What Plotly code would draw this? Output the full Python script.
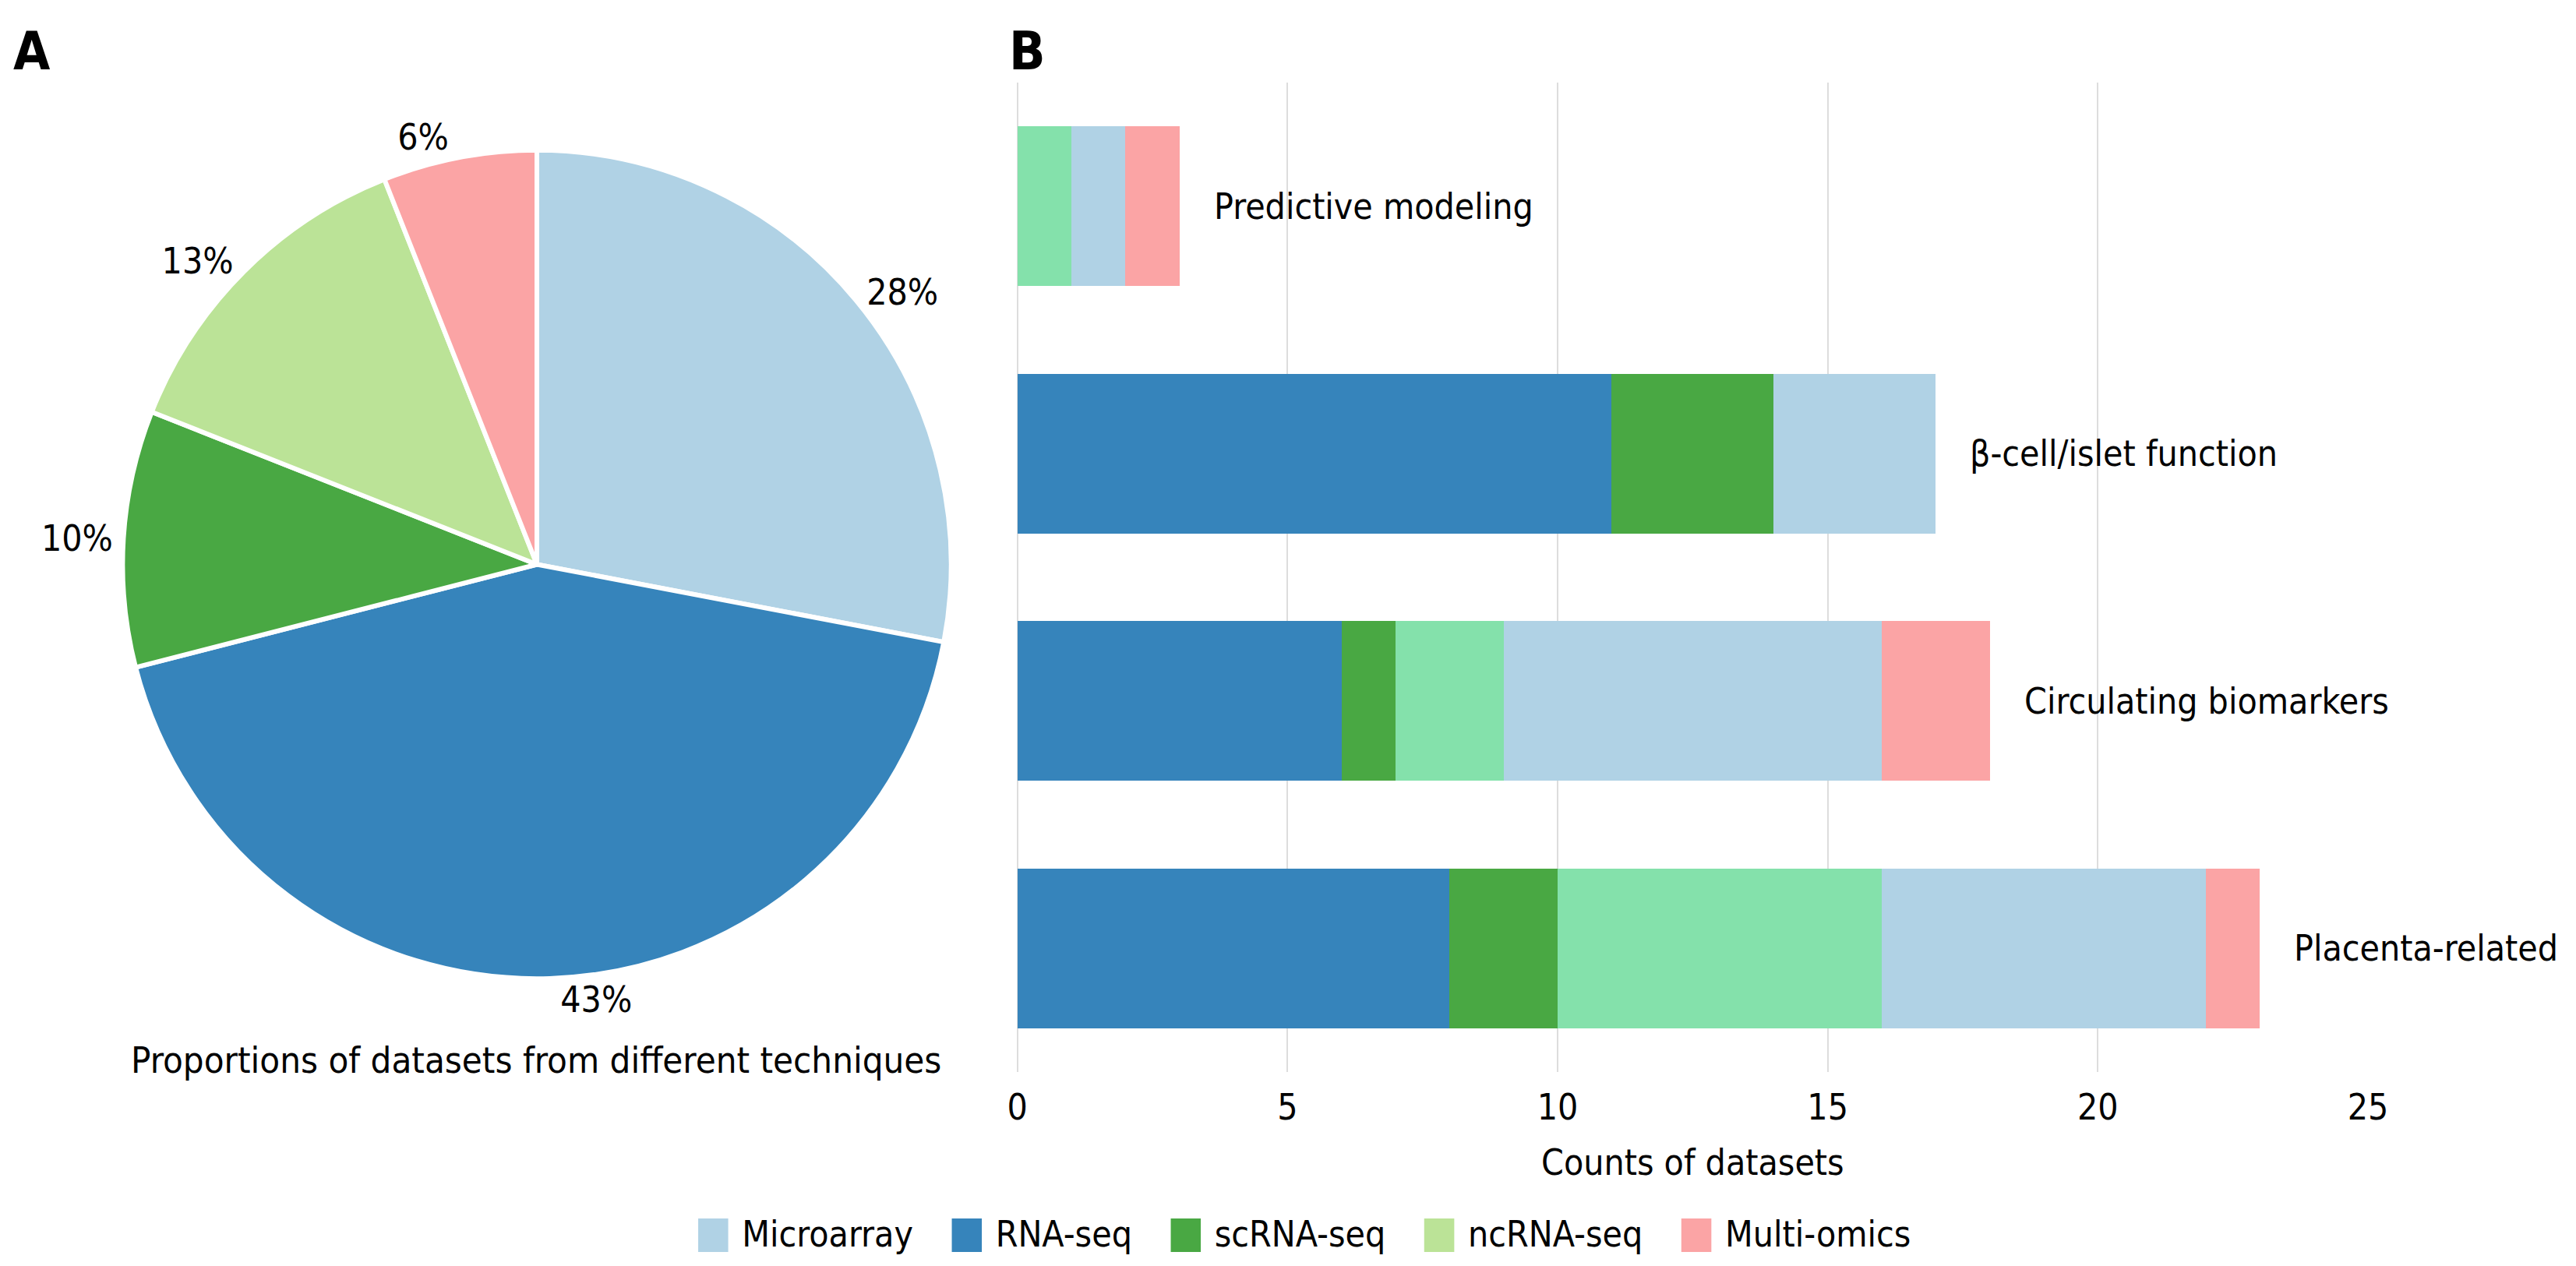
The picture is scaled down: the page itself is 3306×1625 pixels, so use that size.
import plotly.graph_objects as go

# ---------- data ----------
techniques = ["Microarray", "RNA-seq", "scRNA-seq", "ncRNA-seq", "Multi-omics"]
pie_values = [28, 43, 10, 13, 6]

categories = ["Predictive modeling", "β-cell/islet function", "Circulating biomarkers", "Placenta-related"]
rna_seq = [0, 11, 6, 8]
scrna_seq = [0, 3, 1, 2]
ncrna_seq = [1, 0, 2, 6]
microarray = [1, 3, 7, 6]
multi_omics = [1, 0, 2, 1]

x_ticks = [0, 5, 10, 15, 20, 25]

# ---------- styling ----------
FONT = "DejaVu Sans Condensed, DejaVu Sans, sans-serif"
FS = 46
pie_colors = ["#b0d2e5", "#3684bb", "#49a843", "#bbe397", "#fba4a5"]
bar_colors = {
    "RNA-seq": "#3684bb",
    "scRNA-seq": "#49a843",
    "ncRNA-seq": "#84e1ab",
    "Microarray": "#b0d2e5",
    "Multi-omics": "#fba4a5",
}

W, H = 3306, 1625

fig = go.Figure()

# pie (panel A)
fig.add_trace(go.Pie(
    labels=techniques,
    values=pie_values,
    sort=False,
    direction="clockwise",
    rotation=0,
    marker=dict(colors=pie_colors, line=dict(color="white", width=6)),
    textposition="outside",
    texttemplate="%{percent:.0%}",
    textfont=dict(family=FONT, size=FS, color="black"),
    domain=dict(x=[138 / W, 1214 / W], y=[1 - 1255 / H, 1 - 178 / H]),
    showlegend=False,
    hoverinfo="label+percent",
))

# stacked bars (panel B)
series = [
    ("RNA-seq", rna_seq),
    ("scRNA-seq", scrna_seq),
    ("ncRNA-seq", ncrna_seq),
    ("Microarray", microarray),
    ("Multi-omics", multi_omics),
]
for name, vals in series:
    fig.add_trace(go.Bar(
        y=categories,
        x=vals,
        name=name,
        orientation="h",
        marker=dict(color=bar_colors[name], line=dict(width=0)),
        showlegend=False,
        xaxis="x",
        yaxis="y",
    ))

# legend entries (technique colours as in the pie)
for name, col in zip(techniques, pie_colors):
    fig.add_trace(go.Scatter(
        x=[None], y=[None], mode="markers",
        marker=dict(color="rgba(0,0,0,0)", size=2),
        name=f'<span style="color:{col};font-size:56px">■</span> {name}',
        showlegend=True, hoverinfo="skip",
        xaxis="x", yaxis="y",
    ))

totals = [sum(v) for v in zip(rna_seq, scrna_seq, ncrna_seq, microarray, multi_omics)]

annotations = []
for cat, tot in zip(categories, totals):
    annotations.append(dict(
        x=tot, y=cat, xref="x", yref="y", text=cat, showarrow=False,
        xanchor="left", yanchor="middle", xshift=42,
        font=dict(family=FONT, size=FS, color="black"),
    ))

annotations += [
    dict(x=675 / W, y=1 - 1352 / H, xref="paper", yref="paper",
         text="Proportions of datasets from different techniques", showarrow=False,
         xanchor="center", yanchor="middle",
         font=dict(family=FONT, size=FS + 1, color="black")),
    dict(x=0, y=1 - 57 / H, xref="paper", yref="paper", text="<b>A</b>", showarrow=False,
         xanchor="left", yanchor="middle", xshift=-6,
         font=dict(family=FONT, size=68, color="black")),
    dict(x=1291 / W, y=1 - 57 / H, xref="paper", yref="paper", text="<b>B</b>", showarrow=False,
         xanchor="left", yanchor="middle", xshift=-4,
         font=dict(family=FONT, size=68, color="black")),
]

fig.update_layout(
    width=W, height=H,
    margin=dict(l=0, r=0, t=0, b=0),
    paper_bgcolor="white",
    plot_bgcolor="white",
    barmode="stack",
    bargap=0.353,
    font=dict(family=FONT, size=FS, color="black"),
    xaxis=dict(
        domain=[1300 / W, 3054 / W],
        range=[0, 25],
        tickvals=x_ticks,
        ticktext=[str(t) for t in x_ticks],
        showgrid=True, gridcolor="#dddddd", gridwidth=2,
        zeroline=True, zerolinecolor="#dddddd", zerolinewidth=2,
        showline=False, ticks="",
        ticklabelstandoff=14,
        tickfont=dict(family=FONT, size=FS, color="black"),
        title=dict(text="Counts of datasets", standoff=28,
                   font=dict(family=FONT, size=FS, color="black")),
        anchor="y",
    ),
    yaxis=dict(
        domain=[1 - 1368 / H, 1 - 98 / H],
        categoryorder="array",
        categoryarray=categories,
        autorange="reversed",
        showticklabels=False,
        showgrid=False, zeroline=False, showline=False, ticks="",
        anchor="x",
    ),
    legend=dict(
        orientation="h",
        x=0.5, xanchor="center",
        y=1 - 1574 / H, yanchor="middle",
        font=dict(family=FONT, size=FS, color="black"),
        itemwidth=30,
        traceorder="normal",
    ),
    annotations=annotations,
)

fig.write_html("out.html")
